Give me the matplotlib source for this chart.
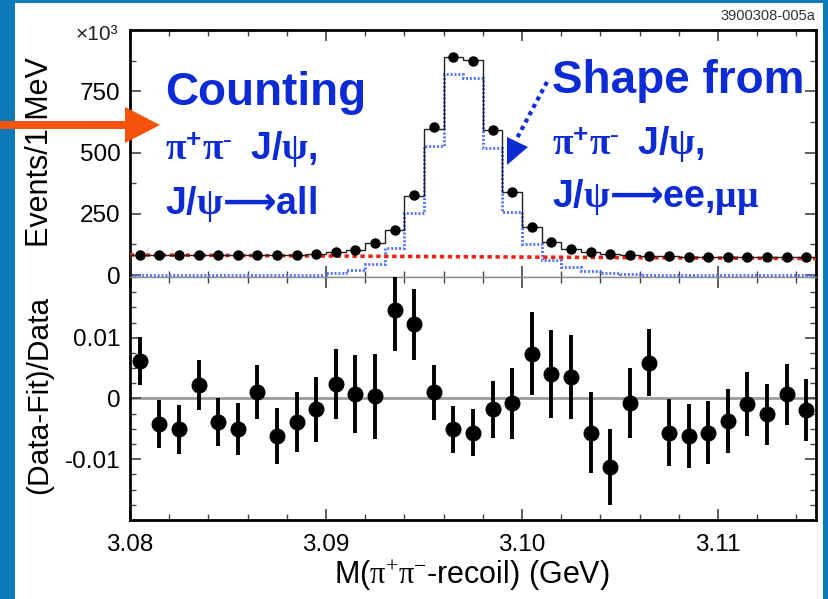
import numpy as np
import matplotlib
matplotlib.use("Agg")
from matplotlib import pyplot as plt  # noqa
from matplotlib.patches import Polygon, Rectangle
from matplotlib.lines import Line2D
from matplotlib.ticker import MultipleLocator

plt.rcParams['font.family'] = ['Liberation Sans', 'DejaVu Sans']
plt.rcParams['mathtext.fontset'] = 'custom'
plt.rcParams['mathtext.rm'] = 'Liberation Serif'
plt.rcParams['mathtext.it'] = 'Liberation Serif:italic'
plt.rcParams['mathtext.bf'] = 'Liberation Sans:bold'
plt.rcParams['mathtext.sf'] = 'Liberation Serif:bold'
plt.rcParams['mathtext.tt'] = 'DejaVu Sans:bold'

# 35 bins of 1 MeV in M(pi+pi- recoil), GeV
bin_lo, bin_hi = 3.080, 3.115

# events per bin (x10^3)
events = [82, 81, 81, 81, 81, 81, 81, 81, 82, 85,
          92, 104, 131, 185, 328, 605, 891, 873, 590, 337,
          198, 135, 108, 92, 85, 81, 78, 77, 75, 74,
          73, 73, 73, 72, 72]
# total fit (black histogram)
fit_total = [81, 81, 81, 81, 81, 81, 81, 81, 82, 85,
             92, 104, 131, 183, 323, 598, 890, 878, 591, 337,
             197, 134, 108, 92, 85, 81, 78, 77, 75, 74,
             73, 73, 73, 72, 72]
# signal shape from J/psi -> ee, mumu (blue dotted)
signal_shape = [0, 0, 0, 0, 0, 0, 0, 0, 1, 2,
                7, 20, 47, 110, 252, 526, 819, 803, 520, 256,
                125, 63, 34, 17, 7, 3, 2, 1, 1, 1,
                0, 0, 0, 0, 0]
# linear background at the two ends of the range
bkg_ends = [82, 67]

# (Data-Fit)/Data
ratio = [0.0062, -0.0042, -0.0051, 0.0022, -0.0039, -0.0050, 0.0011, -0.0061, -0.0039, -0.0018,
         0.0024, 0.0008, 0.0004, 0.0145, 0.0122, 0.0010, -0.0051, -0.0056, -0.0018, -0.0008,
         0.0074, 0.0040, 0.0036, -0.0056, -0.0113, -0.0007, 0.0059, -0.0056, -0.0062, -0.0056,
         -0.0037, -0.0009, -0.0026, 0.0007, -0.0019]
ratio_err = [0.0039, 0.0040, 0.0040, 0.0041, 0.0040, 0.0043, 0.0044, 0.0046, 0.0049, 0.0053,
             0.0057, 0.0064, 0.0070, 0.0067, 0.0058, 0.0045, 0.0039, 0.0039, 0.0047, 0.0059,
             0.0068, 0.0072, 0.0069, 0.0066, 0.0062, 0.0058, 0.0055, 0.0055, 0.0053, 0.0052,
             0.0052, 0.0052, 0.0050, 0.0050, 0.0051]

x_ticks = [3.08, 3.09, 3.10, 3.11]
x_ticklabels = ['3.08', '3.09', '3.10', '3.11']
top_yticks = [0, 250, 500, 750]
bot_yticks = [-0.01, 0, 0.01]
bot_yticklabels = ['-0.01', '0', '0.01']

edges = np.linspace(bin_lo, bin_hi, len(events) + 1)
centers = 0.5 * (edges[:-1] + edges[1:])

W, H = 829, 599
TXT_BLUE = '#0d2bd4'


def fx(px):
    return px / W


def fy(py):
    return 1 - py / H


fig = plt.figure(figsize=(W / 100, H / 100), dpi=100, facecolor='#0b7abb')
fig.patches.append(Rectangle((fx(15), 0), fx(823) - fx(15), fy(3), transform=fig.transFigure,
                             facecolor='white', edgecolor='none', zorder=-5))

ax1 = fig.add_axes([fx(130), fy(277), fx(816) - fx(130), fy(30) - fy(277)])
ax2 = fig.add_axes([fx(130), fy(520), fx(816) - fx(130), fy(277) - fy(520)], sharex=ax1)

# top panel
ax1.stairs(signal_shape, edges, color='#4d6bff', lw=2.0, ls=(0, (0.7, 0.7)), zorder=2)
ax1.plot([bin_lo, bin_hi], bkg_ends, color='#ee2211', lw=2.6, ls=(0, (1.2, 1.0)), zorder=3)
ax1.stairs(fit_total, edges, color='#222222', lw=1.0, zorder=4)
ax1.plot(centers, events, 'o', color='black', ms=6.5, zorder=5)
ax1.set_xlim(bin_lo, bin_hi)
ax1.set_ylim(-8, 1000)
ax1.set_yticks(top_yticks)
ax1.yaxis.set_minor_locator(MultipleLocator(125))
ax1.set_ylabel('Events/1 MeV', fontsize=22)
ax1.yaxis.set_label_coords(-0.109, 0.506)

# bottom panel
ax2.axhline(0, color='#9a9a9a', lw=2, zorder=1)
ax2.errorbar(centers, ratio, yerr=ratio_err, fmt='o', color='black', ms=10.5,
             elinewidth=2.8, capsize=0, zorder=3)
ax2.set_ylim(-0.02, 0.02)
ax2.set_yticks(bot_yticks)
ax2.set_yticklabels(bot_yticklabels)
ax2.yaxis.set_minor_locator(MultipleLocator(0.0025))
ax2.set_xticks(x_ticks)
ax2.set_xticklabels(x_ticklabels)
ax2.xaxis.set_minor_locator(MultipleLocator(0.002))
ax2.set_ylabel('(Data-Fit)/Data', fontsize=21.5)
ax2.yaxis.set_label_coords(-0.112, 0.514)
ax2.set_xlabel(r'M($\mathrm{\pi}^{+}\mathrm{\pi}^{-}$-recoil) (GeV)', fontsize=22)
ax2.xaxis.set_label_coords(0.4985, -0.16)

for ax in (ax1, ax2):
    ax.tick_params(which='major', direction='in', length=8, width=1.2, color='#444444',
                   top=True, right=True, labelsize=17.5, pad=7)
    ax.tick_params(which='minor', direction='in', length=4.5, width=1.0, color='#444444',
                   top=True, right=True)
    for s in ax.spines.values():
        s.set_linewidth(2)
        s.set_color('black')
ax1.tick_params(labelbottom=False)
ax2.tick_params(axis='x', pad=10)
ax1.spines['bottom'].set_linewidth(1)
ax1.spines['bottom'].set_color('#8a8a8a')
ax2.spines['top'].set_linewidth(1)
ax2.spines['top'].set_color('#8a8a8a')

fig.text(fx(118), fy(35), '×10³', ha='right', va='center', fontsize=15, color='#222222')
fig.text(fx(815), fy(16), '3900308-005a', ha='right', va='center', fontsize=10.5, color='#333333')

# annotations
pipi = r'$\mathsf{\pi}^{\mathbf{+}}\mathsf{\pi}^{\text{-}}\;$ J/$\mathsf{\psi}$,'
kw = dict(color=TXT_BLUE, fontweight='bold', va='baseline', zorder=6)
fig.text(fx(165), fy(105), 'Counting', fontsize=33, **kw)
fig.text(fx(165), fy(160), pipi, fontsize=27, **kw)
fig.text(fx(165), fy(214), r'J/$\mathsf{\psi}\mathtt{⟶}$all', fontsize=27, **kw)
fig.text(fx(552), fy(93), 'Shape from', fontsize=33, **kw)
fig.text(fx(552), fy(155), pipi, fontsize=27, **kw)
fig.text(fx(552), fy(207), r'J/$\mathsf{\psi}\mathtt{⟶}$ee,$\mathsf{\mu\mu}$',
         fontsize=27, **kw)

# orange arrow from the slide edge
arrow_px = [(0, 121), (125, 121), (125, 107), (160, 125), (125, 143), (125, 129), (0, 129)]
fig.patches.append(Polygon([(fx(a), fy(b)) for a, b in arrow_px], closed=True,
                           transform=fig.transFigure, facecolor='#f5520c', edgecolor='none', zorder=6))
# dotted blue pointer
fig.lines.append(Line2D([fx(547), fx(516)], [fy(82), fy(140)], transform=fig.transFigure,
                        color=TXT_BLUE, lw=3, ls=(0, (1, 1)), zorder=6))
head_px = [(507, 137), (507, 165), (528, 147)]
fig.patches.append(Polygon([(fx(a), fy(b)) for a, b in head_px], closed=True,
                           transform=fig.transFigure, facecolor=TXT_BLUE, edgecolor='none', zorder=6))

fig.savefig('out.png', dpi=100, facecolor=fig.get_facecolor())
